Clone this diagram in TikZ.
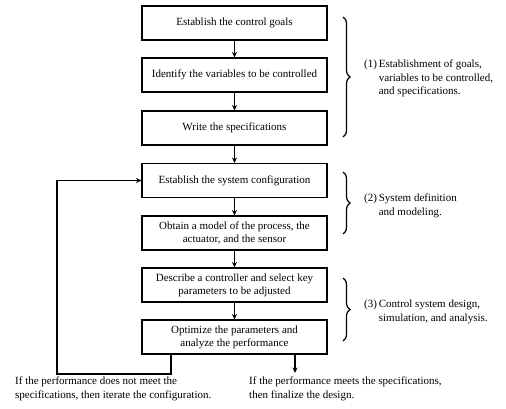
\documentclass[tikz,border=0pt]{standalone}
\usepackage{fontspec}
\setmainfont{Liberation Serif}
\usetikzlibrary{arrows.meta,decorations.pathreplacing}

\tikzset{
  stepbox/.style={draw, line width=1.1pt, minimum width=185pt, minimum height=34pt,
    align=center, inner sep=2pt, font=\fontsize{11}{13}\selectfont},
  flow/.style={line width=1.1pt, -{Stealth[length=5.5pt,width=5pt]}},
  note/.style={align=left, inner sep=0pt, font=\fontsize{11}{13.5}\selectfont},
  grp/.style={decorate, decoration={brace, amplitude=7pt}, line width=1.2pt}
}

\begin{document}
\begin{tikzpicture}[x=1pt,y=-1pt]
        \useasboundingbox (0,0) rectangle (506,409);
        % design steps
        \node[stepbox] (goals) at (234.5,23) {Establish the control goals};
        \node[stepbox] (vars) at (234.5,75) {Identify the variables to be controlled};
        \node[stepbox] (specs) at (234.5,128) {Write the specifications};
        \node[stepbox] (config) at (234.5,180.5) {Establish the system configuration};
        \node[stepbox] (model) at (234.5,233) {Obtain a model of the process, the\\actuator, and the sensor};
        \node[stepbox] (ctrl) at (234.5,285) {Describe a controller and select key\\parameters to be adjusted};
        \node[stepbox] (opt) at (234.5,337) {Optimize the parameters and\\analyze the performance};
        \draw[flow] (goals) -- (vars);
        \draw[flow] (vars) -- (specs);
        \draw[flow] (specs) -- (config);
        \draw[flow] (config) -- (model);
        \draw[flow] (model) -- (ctrl);
        \draw[flow] (ctrl) -- (opt);
        % iterate back to the configuration
        \coordinate (fb) at ([xshift=-63.5pt]opt.south);
        \coordinate (loop) at (57,374);
        \draw[flow] (fb) |- (loop) |- (config.west);
        % finalize
        \coordinate (done) at (295,373);
        \draw[flow] (opt.south -| done) -- (done);
        \node[note, anchor=north west] (retry) at (15,377) {If the performance does not meet the\\specifications, then iterate the configuration.};
        \node[note, anchor=north west] (final) at (249,377) {If the performance meets the specifications,\\then finalize the design.};
        % phases
        \draw[grp] (343,17) -- (343,137);
        \draw[grp] (343,172) -- (343,234);
        \draw[grp] (343,278) -- (343,341);
        \node[note, anchor=north west] (ph1) at (364,58) {\begin{tabular}{@{}l@{\,}l@{}}(1) & Establishment of goals,\\ & variables to be controlled,\\ & and specifications.\end{tabular}};
        \node[note, anchor=north west] (ph2) at (364,192) {\begin{tabular}{@{}l@{\,}l@{}}(2) & System definition\\ & and modeling.\end{tabular}};
        \node[note, anchor=north west] (ph3) at (364,298) {\begin{tabular}{@{}l@{\,}l@{}}(3) & Control system design,\\ & simulation, and analysis.\end{tabular}};
\end{tikzpicture}
\end{document}
